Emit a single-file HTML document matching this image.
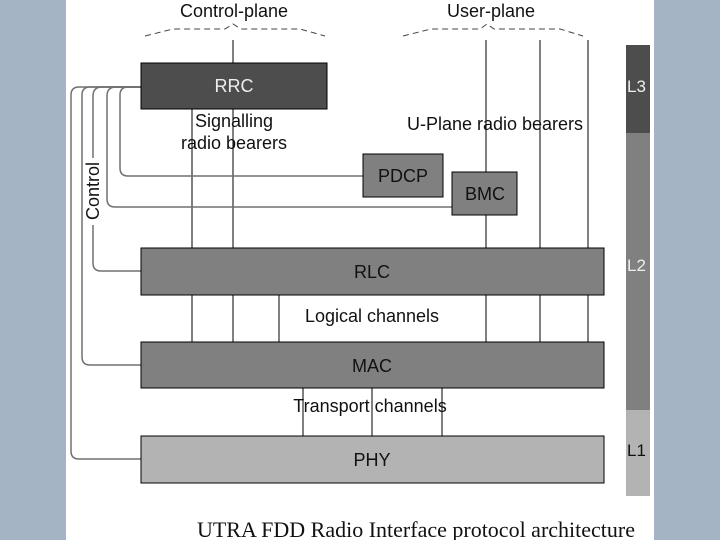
<!DOCTYPE html>
<html><head><style>
body{margin:0;width:720px;height:540px;background:#a4b4c4;overflow:hidden}
svg{display:block}
text{font-family:"Liberation Sans",sans-serif;font-size:18px;fill:#111}
</style></head><body>
<svg width="720" height="540" xmlns="http://www.w3.org/2000/svg">
<rect x="66" y="0" width="588" height="540" fill="#fff"/>
<rect x="626" y="45" width="24" height="88" fill="#4d4d4d"/>
<rect x="626" y="133" width="24" height="277" fill="#808080"/>
<rect x="626" y="410" width="24" height="86" fill="#b3b3b3"/>
<text x="627" y="92" style="fill:#eee;font-size:17px">L3</text>
<text x="627" y="271" style="fill:#eee;font-size:17px">L2</text>
<text x="627" y="456" style="font-size:17px">L1</text>
<g fill="none" stroke="#444" stroke-dasharray="6,4" stroke-width="1">
<path d="M145 36 L173 29 L225 29 L233 24 L241 29 L300 29 L325 36"/>
<path d="M403 36 L431 29 L480 29 L487 24 L494 29 L560 29 L583 36"/>
</g>
<text x="234" y="17" text-anchor="middle">Control-plane</text>
<text x="491" y="17" text-anchor="middle">User-plane</text>
<g stroke="#000" stroke-width="1">
<line x1="233" y1="40" x2="233" y2="63"/>
<line x1="192" y1="109" x2="192" y2="248"/>
<line x1="233" y1="109" x2="233" y2="248"/>
<line x1="486" y1="40" x2="486" y2="172"/>
<line x1="486" y1="215" x2="486" y2="248"/>
<line x1="540" y1="40" x2="540" y2="248"/>
<line x1="588" y1="40" x2="588" y2="248"/>
<line x1="192" y1="295" x2="192" y2="342"/>
<line x1="233" y1="295" x2="233" y2="342"/>
<line x1="279" y1="295" x2="279" y2="342"/>
<line x1="486" y1="295" x2="486" y2="342"/>
<line x1="540" y1="295" x2="540" y2="342"/>
<line x1="588" y1="295" x2="588" y2="342"/>
<line x1="303" y1="388" x2="303" y2="436"/>
<line x1="372" y1="388" x2="372" y2="436"/>
<line x1="442" y1="388" x2="442" y2="436"/>
</g>
<g fill="none" stroke="#707070" stroke-width="1.5">
<path d="M141 87 L128 87 Q120 87 120 95 L120 168 Q120 176 128 176 L363 176"/>
<path d="M141 87 L116 87 Q107 87 107 96 L107 199 Q107 207 115 207 L452 207"/>
<path d="M141 87 L102 87 Q93 87 93 96 L93 158 M93 225 L93 263 Q93 271 101 271 L141 271"/>
<path d="M141 87 L90 87 Q82 87 82 95 L82 357 Q82 365 90 365 L141 365"/>
<path d="M141 87 L79 87 Q71 87 71 95 L71 451 Q71 459 79 459 L141 459"/>
</g>
<text transform="translate(99,191) rotate(-90)" text-anchor="middle">Control</text>
<g stroke="#000" stroke-width="1">
<rect x="141" y="63" width="186" height="46" fill="#4d4d4d"/>
<rect x="363" y="154" width="80" height="43" fill="#808080"/>
<rect x="452" y="172" width="65" height="43" fill="#808080"/>
<rect x="141" y="248" width="463" height="47" fill="#808080"/>
<rect x="141" y="342" width="463" height="46" fill="#808080"/>
<rect x="141" y="436" width="463" height="47" fill="#b3b3b3"/>
</g>
<text x="234" y="92" text-anchor="middle" style="fill:#eee">RRC</text>
<text x="403" y="182" text-anchor="middle">PDCP</text>
<text x="485" y="200" text-anchor="middle">BMC</text>
<text x="372" y="278" text-anchor="middle">RLC</text>
<text x="372" y="372" text-anchor="middle">MAC</text>
<text x="372" y="466" text-anchor="middle">PHY</text>
<text x="234" y="127" text-anchor="middle">Signalling</text>
<text x="234" y="149" text-anchor="middle">radio bearers</text>
<text x="495" y="130" text-anchor="middle">U-Plane radio bearers</text>
<text x="372" y="322" text-anchor="middle">Logical channels</text>
<text x="370" y="412" text-anchor="middle">Transport channels</text>
<text x="416" y="537" text-anchor="middle" style="font-family:'Liberation Serif',serif;font-size:22px">UTRA FDD Radio Interface protocol architecture</text>
</svg>
</body></html>
